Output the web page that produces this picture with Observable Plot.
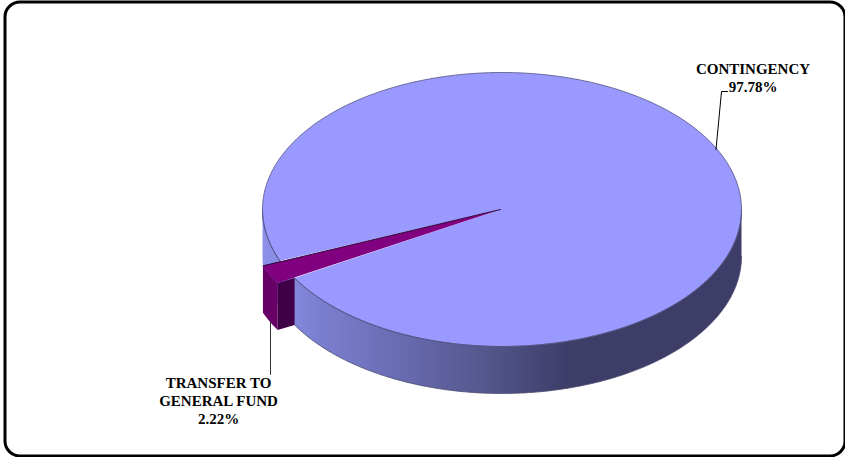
<!DOCTYPE html>
<html>
<head>
<meta charset="utf-8">
<script src="https://cdn.jsdelivr.net/npm/d3@7"></script>
<script src="https://cdn.jsdelivr.net/npm/@observablehq/plot@0.6"></script>
<style>html,body{margin:0;padding:0;background:#fff}svg{display:block}</style>
</head>
<body>
<div id="chart"></div>
<script>
const categories = ["TRANSFER TO\nGENERAL FUND", "CONTINGENCY"];
const shares = [2.22, 97.78];

const W = 845, H = 457;
const cx = 501.5, cy = 209, rx = 239.5, ry = 137, depth = 47;
const startDeg = 22;
const explode = [-17, 5];

const total = d3.sum(shares);
const a0 = startDeg * Math.PI / 180;
const a1 = a0 + 2 * Math.PI * shares[0] / total;
const a2 = a0 + 2 * Math.PI;

const pt = (t, dx = 0, dy = 0) => ({x: cx - rx * Math.cos(t) + dx, y: cy + ry * Math.sin(t) + dy});
const arc = (from, to, dx = 0, dy = 0) => {
  const n = Math.max(2, Math.ceil(Math.abs(to - from) / 0.01));
  return d3.range(n + 1).map(i => pt(from + (to - from) * i / n, dx, dy));
};
const [ex, ey] = explode;

const apex = {x: cx - 1.5, y: cy};
const wall = [...arc(0, Math.PI), ...arc(Math.PI, 0, 0, depth)];
const wallBottom = arc(a1, Math.PI, 0, depth);
const blueTop = [apex, ...arc(a1, a2), apex];
const rimEdges = [arc(0, a0), arc(a1, Math.PI)];

const purpleOuter = [...arc(a0, a1, ex, ey), ...arc(a1, a0, ex, ey + depth)];
const q = pt(a1), e1 = pt(a1, ex, ey);
const purpleCut = [e1, q, {x: q.x, y: q.y + depth}, {x: e1.x, y: e1.y + depth}];
const purpleTop = [apex, ...arc(a0, a1, ex, ey), apex];
const purpleEdge = [apex, pt(a0, ex, ey)];

const leaderTop = [{x: 715.5, y: 149}, {x: 721, y: 91}, {x: 727, y: 91}];
const leaderBottom = [{x: 270, y: 321}, {x: 270, y: 374}];

const labels = [
  {x: 752.5, y: 60.5, text: `${categories[1]}\n${shares[1].toFixed(2)}%`},
  {x: 218, y: 374.5, text: `${categories[0]}\n${shares[0].toFixed(2)}%`}
];

const defs = () => {
  const svg = d3.create("svg:g");
  const g = svg.append("defs").append("linearGradient").attr("id", "wallGrad");
  [[0, "#8d91ea"], [0.12, "#7b7fd0"], [0.45, "#565890"], [0.64, "#3d3d68"], [1, "#3d3d68"]]
    .forEach(([o, c]) => g.append("stop").attr("offset", o).attr("stop-color", c));
  return svg.node();
};

const poly = (d, fill, stroke = "none", strokeWidth = 0.6) =>
  Plot.line(d, {x: "x", y: "y", fill, stroke, strokeWidth, curve: "linear"});

const chart = Plot.plot({
  width: W, height: H,
  margin: 0,
  x: {domain: [0, W], range: [0, W], axis: null},
  y: {domain: [0, H], range: [0, H], axis: null},
  marks: [
    defs,
    poly(wall, "url(#wallGrad)"),
    poly(wallBottom, "none", "#4a4a70", 0.8),
    poly(blueTop, "#9999ff"),
    poly(rimEdges[0], "none", "#4f4f80", 0.8),
    poly(rimEdges[1], "none", "#4f4f80", 0.8),
    poly(arc(a1, a2), "none", "#4f4f80", 0.8),
    poly(purpleOuter, "#680068"),
    poly(purpleCut, "#400048"),
    poly(purpleTop, "#800080"),
    poly(purpleEdge, "none", "#200030", 0.9),
    poly(leaderTop, "none", "#000", 1),
    poly(leaderBottom, "none", "#333", 1),
    Plot.text(labels, {
      x: "x", y: "y", text: "text",
      lineAnchor: "top", lineHeight: 1.2,
      fontFamily: "Liberation Serif", fontWeight: "bold", fontSize: 15, fill: "#000"
    }),
    Plot.frame({stroke: "#000", strokeWidth: 3, rx: 15,
      insetLeft: 4.5, insetTop: 1.5, insetRight: 0.5, insetBottom: 1.5})
  ]
});
document.getElementById("chart").append(chart);
</script>
</body>
</html>
